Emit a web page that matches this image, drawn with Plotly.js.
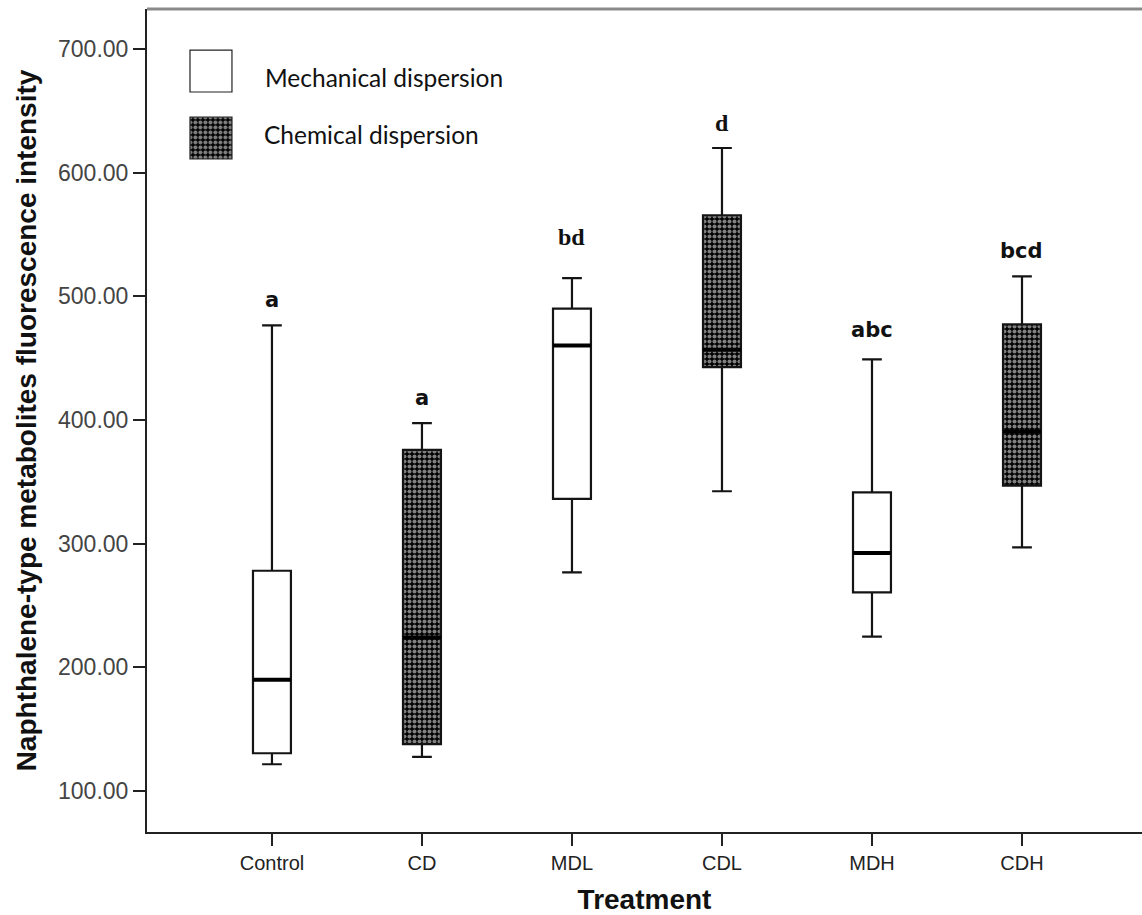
<!DOCTYPE html>
<html><head><meta charset="utf-8">
<script src="https://cdn.plot.ly/plotly-3.0.1.min.js"></script>
<style>html,body{margin:0;padding:0;background:#fff}</style>
</head><body><div id="chart" style="width:1142px;height:915px"></div>
<script>
const categories = ['Control','CD','MDL','CDL','MDH','CDH'];
const dispersion = ['Mechanical','Chemical','Mechanical','Chemical','Mechanical','Chemical'];
const lowerWhisker = [121.6, 127.5, 276.8, 342.4, 224.8, 297.0];
const q1 = [130.5, 137.8, 336.2, 442.8, 260.6, 347.0];
const median = [189.9, 224.1, 460.3, 456.8, 292.4, 390.7];
const q3 = [278.1, 375.9, 490.0, 565.6, 341.5, 477.3];
const upperWhisker = [476.5, 397.4, 514.8, 620.0, 449.0, 516.2];
const groupLetters = ['a','a','bd','d','abc','bcd'];
const letterY = [497, 418, 548, 640, 473, 537];
const yTicks = [100,200,300,400,500,600,700];
const legendLabels = ['Mechanical dispersion','Chemical dispersion'];
const axisTitles = {x:'Treatment', y:'Naphthalene-type metabolites fluorescence intensity'};

const pick = (arr, grp) => arr.filter((_, i) => dispersion[i] === grp);
const boxW = 0.253;
const lineCol = '#141414';
const pattern = {shape:'.', fgcolor:'#ffffff', bgcolor:'#000000', size:5, solidity:0.52, fillmode:'overlay'};

const traces = [];
// patterned fill under chemical boxes
const chemQ1 = pick(q1,'Chemical'), chemQ3 = pick(q3,'Chemical');
traces.push({type:'bar', x: pick(categories,'Chemical'), base: chemQ1,
  y: chemQ3.map((v,i)=>v-chemQ1[i]), width: boxW,
  marker:{color:'#000000', pattern: pattern, line:{width:0}},
  showlegend:false, hoverinfo:'skip'});
['Mechanical','Chemical'].forEach(g => {
  traces.push({type:'box', x: pick(categories,g), q1: pick(q1,g), median: pick(median,g),
    q3: pick(q3,g), lowerfence: pick(lowerWhisker,g), upperfence: pick(upperWhisker,g),
    boxpoints:false, width: boxW, whiskerwidth:0.52,
    fillcolor: g === 'Mechanical' ? '#ffffff' : 'rgba(0,0,0,0)',
    line:{color: lineCol, width:2.2}, showlegend:false, hoverinfo:'skip'});
});
// thick median lines (line-ew symbol length = 1.4 * size)
traces.push({type:'scatter', mode:'markers', x: categories, y: median,
  marker:{symbol:'line-ew', size:27, color:'#000', line:{width:4, color:'#000'}},
  showlegend:false, hoverinfo:'skip', cliponaxis:false});
// legend swatches
traces.push({type:'bar', x:[0], y:[1], base:[0], width:[1], xaxis:'x2', yaxis:'y2',
  marker:{color:'#fff', line:{width:1.2, color:'#222'}}, showlegend:false, hoverinfo:'skip'});
traces.push({type:'bar', x:[0], y:[1], base:[0], width:[1], xaxis:'x3', yaxis:'y3',
  marker:{color:'#000000', pattern: pattern, line:{width:1.2, color:'#222'}}, showlegend:false, hoverinfo:'skip'});

const serifLetters = new Set(['bd','d']);
const annotations = groupLetters.map((t,i) => ({
  x: categories[i], y: letterY[i], xref:'x', yref:'y', text: t, showarrow:false,
  xanchor:'center', yanchor:'middle',
  font: serifLetters.has(t) ? {family:'Liberation Serif', size:24, weight:'bold', color:'#111'}
                            : {family:'DejaVu Sans', size:21, weight:'bold', color:'#111'}
}));
annotations.push({xref:'paper', yref:'paper', x:0.1166, y:0.9162, xanchor:'left', yanchor:'middle',
  text: legendLabels[0], showarrow:false, font:{family:'Lato', size:24.5, color:'#111'}});
annotations.push({xref:'paper', yref:'paper', x:0.1153, y:0.848, xanchor:'left', yanchor:'middle',
  text: legendLabels[1], showarrow:false, font:{family:'Lato', size:24.5, color:'#111'}});

const hidden = r => ({range:r, visible:false, fixedrange:true, showgrid:false, zeroline:false});
const layout = {
  width:1142, height:915, margin:{l:147, r:0, t:9, b:83},
  paper_bgcolor:'#fff', plot_bgcolor:'#fff', barmode:'overlay', boxmode:'overlay',
  showlegend:false,
  xaxis:{type:'category', categoryorder:'array', categoryarray: categories,
    range:[-0.833, 5.8], showline:true, linecolor:'#222', linewidth:2,
    ticks:'outside', ticklen:12, tickwidth:2, tickcolor:'#222',
    tickfont:{family:'Liberation Sans', size:20, color:'#222'}, showgrid:false, zeroline:false,
    title:{text: axisTitles.x, standoff:28, font:{family:'Liberation Sans', size:28, weight:'bold', color:'#111'}}},
  yaxis:{range:[66.8, 732.4], tickvals: yTicks, tickformat:'.2f', showline:true, linecolor:'#222', linewidth:2,
    ticks:'outside', ticklen:12, tickwidth:2, tickcolor:'#222',
    tickfont:{family:'Liberation Sans', size:23, color:'#444'}, showgrid:false, zeroline:false,
    title:{text: axisTitles.y, standoff:13, font:{family:'Liberation Sans', size:28, weight:'bold', color:'#111'}}},
  xaxis2: Object.assign(hidden([-0.55,0.55]), {domain:[0.0411,0.0875], anchor:'y2'}),
  yaxis2: Object.assign(hidden([-0.05,1.05]), {domain:[0.8966,0.9527], anchor:'x2'}),
  xaxis3: Object.assign(hidden([-0.55,0.55]), {domain:[0.0411,0.0875], anchor:'y3'}),
  yaxis3: Object.assign(hidden([-0.05,1.05]), {domain:[0.8152,0.8713], anchor:'x3'}),
  shapes:[{type:'line', xref:'paper', yref:'paper', x0:0, x1:1, y0:1, y1:1, line:{color:'#8a8a8a', width:3}}],
  annotations: annotations
};
Plotly.newPlot('chart', traces, layout, {displayModeBar:false, staticPlot:true});
</script></body></html>
